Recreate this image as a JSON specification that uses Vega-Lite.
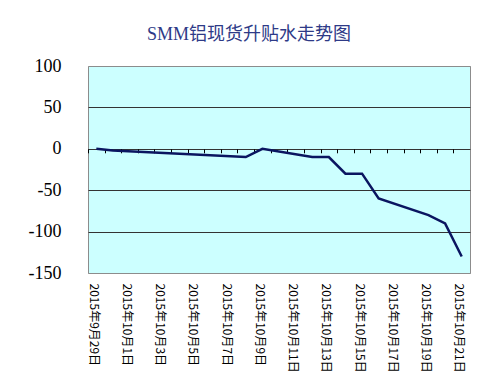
{
  "$schema": "https://vega.github.io/schema/vega-lite/v6.json",
  "width": 382,
  "height": 207,
  "autosize": "none",
  "padding": {"left": 88, "top": 66, "right": 30, "bottom": 112},
  "background": "white",
  "title": {
    "text": "SMM铝现货升贴水走势图",
    "font": "Liberation Serif, Noto Sans CJK SC",
    "fontSize": 18,
    "fontWeight": "normal",
    "color": "#2E3A87",
    "anchor": "middle",
    "dx": -30,
    "offset": 13
  },
  "config": {"view": {"fill": "#CCFFFF", "stroke": "#8C8C8C", "strokeWidth": 1}},
  "data": {
    "values": [
      {"date": "2015/09/29", "value": 0},
      {"date": "2015/09/30", "value": -2},
      {"date": "2015/10/08", "value": -10},
      {"date": "2015/10/09", "value": 0},
      {"date": "2015/10/12", "value": -10},
      {"date": "2015/10/13", "value": -10},
      {"date": "2015/10/14", "value": -30},
      {"date": "2015/10/15", "value": -30},
      {"date": "2015/10/16", "value": -60},
      {"date": "2015/10/19", "value": -80},
      {"date": "2015/10/20", "value": -90},
      {"date": "2015/10/21", "value": -130}
    ],
    "format": {"parse": {"date": "date"}}
  },
  "encoding": {
    "y": {
      "field": "value",
      "type": "quantitative",
      "scale": {"domain": [-150, 100], "nice": false, "zero": false},
      "axis": {
        "values": [-150, -100, -50, 0, 50, 100],
        "labelExpr": "'' + datum.value",
        "grid": true,
        "gridColor": {"condition": {"test": "datum.value == 100 || datum.value == -150", "value": "#8C8C8C"}, "value": "#333333"},
        "gridWidth": 1,
        "domain": false,
        "ticks": false,
        "tickSize": 0,
        "labelPadding": 27,
        "labelFont": "Liberation Serif",
        "labelFontSize": 18,
        "labelColor": "#000000",
        "labelFlush": false,
        "labelOverlap": false,
        "title": null
      }
    }
  },
  "layer": [
    {
      "mark": {"type": "line", "opacity": 0},
      "encoding": {
        "x": {
          "field": "date",
          "type": "temporal",
          "scale": {
            "type": "time",
            "nice": false,
            "domain": [
              {"year": 2015, "month": 9, "date": 28, "hours": 12},
              {"year": 2015, "month": 10, "date": 21, "hours": 12}
            ]
          },
          "axis": {
            "orient": "bottom",
            "offset": -124.2,
            "tickCount": {"interval": "day", "step": 1},
            "tickOffset": -8.3,
            "labels": false,
            "domain": false,
            "grid": false,
            "ticks": true,
            "tickSize": 4,
            "tickColor": "#000000",
            "tickWidth": 1,
            "title": null
          }
        }
      }
    },
    {
      "mark": {"type": "line", "color": "#0A1560", "strokeWidth": 2.5},
      "encoding": {
        "x": {
          "field": "date",
          "type": "temporal",
          "scale": {
            "type": "time",
            "nice": false,
            "domain": [
              {"year": 2015, "month": 9, "date": 28, "hours": 12},
              {"year": 2015, "month": 10, "date": 21, "hours": 12}
            ]
          },
          "axis": {
            "orient": "bottom",
            "tickCount": {"interval": "day", "step": 2},
            "format": "%Y年%-m月%-d日",
            "labelAngle": 90,
            "labelFont": "Noto Sans CJK SC",
            "labelFontSize": 12,
            "labelColor": "#000000",
            "labelPadding": 10,
            "labelOffset": -3,
            "labelOverlap": false,
            "labelFlush": false,
            "ticks": false,
            "tickSize": 0,
            "domain": false,
            "grid": false,
            "title": null
          }
        }
      }
    }
  ],
  "resolve": {"axis": {"x": "independent"}}
}
